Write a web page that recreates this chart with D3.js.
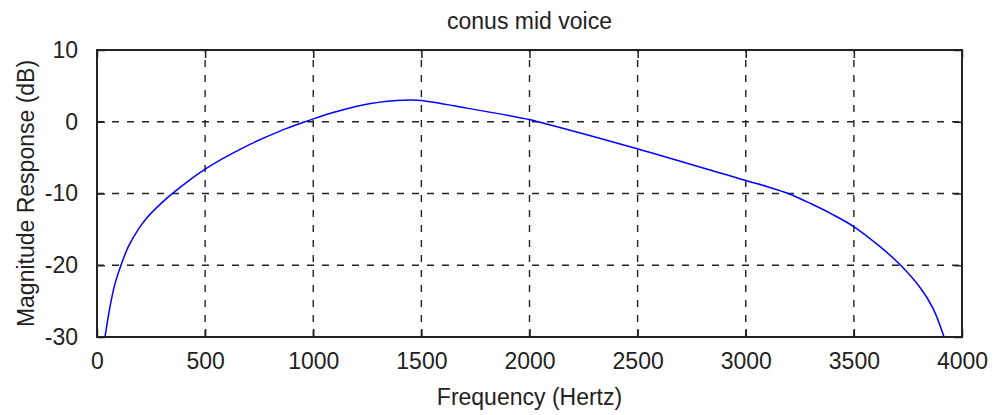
<!DOCTYPE html>
<html>
<head>
<meta charset="utf-8">
<script src="https://cdn.jsdelivr.net/npm/d3@7"></script>
<style>
  body { margin: 0; background: #fff; }
  text { font-family: "Liberation Sans", Arial, sans-serif; fill: #222; }
</style>
</head>
<body>
<div id="chart"></div>
<script>
// values
const freqs = [37, 60, 83, 111, 145, 191, 230, 299, 361, 500, 684, 854, 962, 1000, 1100, 1230, 1386, 1450, 1500, 1710, 2000, 2040, 2502, 3000, 3100, 3196, 3300, 3400, 3499, 3621, 3713, 3806, 3866, 3917];
const magDb = [-30, -25.8, -22.6, -20, -17.4, -15.0, -13.4, -11.3, -9.7, -6.6, -3.5, -1.2, 0, 0.4, 1.35, 2.35, 2.95, 3.02, 2.95, 1.9, 0.3, 0, -3.8, -8.2, -9.05, -10.0, -11.4, -12.9, -14.6, -17.4, -19.9, -23.1, -26, -30];
const xTicks = [0, 500, 1000, 1500, 2000, 2500, 3000, 3500, 4000];
const yTicks = [-30, -20, -10, 0, 10];

// set the dimensions and margins of the graph
var margin = { top: 50, right: 36, bottom: 78, left: 97 },
    width = 998 - margin.left - margin.right,
    height = 415 - margin.top - margin.bottom;

const svg = d3.select("#chart").append("svg")
    .attr("width", 998)
    .attr("height", 415);

const g = svg.append("g")
    .attr("transform", `translate(${margin.left},${margin.top})`);

const x = d3.scaleLinear().domain([0, 4000]).range([0, width]);
const y = d3.scaleLinear().domain([-30, 10]).range([height, 0]);

// dashed grid
g.append("g").selectAll("line")
    .data(xTicks.slice(1, -1))
    .enter().append("line")
    .attr("x1", d => x(d)).attr("x2", d => x(d))
    .attr("y1", height).attr("y2", 0)
    .attr("stroke", "#222").attr("stroke-width", 1.4)
    .attr("stroke-dasharray", "7,8");

g.append("g").selectAll("line")
    .data(yTicks.slice(1, -1))
    .enter().append("line")
    .attr("x1", 0).attr("x2", width)
    .attr("y1", d => y(d)).attr("y2", d => y(d))
    .attr("stroke", "#222").attr("stroke-width", 1.4)
    .attr("stroke-dasharray", "7,8");

// inward ticks on all four sides (box)
const tl = 8;
const plain = d => String(d);   // keep hyphen-minus like the original
const axBottom = g.append("g").attr("transform", `translate(0,${height})`)
    .call(d3.axisBottom(x).tickValues(xTicks).tickSizeInner(-tl).tickSizeOuter(0).tickPadding(16).tickFormat(plain));
const axTop = g.append("g")
    .call(d3.axisTop(x).tickValues(xTicks).tickSizeInner(-tl).tickSizeOuter(0).tickFormat(""));
const axLeft = g.append("g")
    .call(d3.axisLeft(y).tickValues(yTicks).tickSizeInner(-tl).tickSizeOuter(0).tickPadding(19).tickFormat(plain));
const axRight = g.append("g").attr("transform", `translate(${width},0)`)
    .call(d3.axisRight(y).tickValues(yTicks).tickSizeInner(-tl).tickSizeOuter(0).tickFormat(""));

[axBottom, axTop, axLeft, axRight].forEach(a => {
    a.select(".domain").remove();
    a.selectAll(".tick line").attr("stroke", "#222").attr("stroke-width", 1.5);
    a.selectAll(".tick text")
        .style("font-family", '"Liberation Sans", Arial, sans-serif')
        .style("font-size", "23px")
        .attr("fill", "#222");
});

// curve
const line = d3.line()
    .x((d, i) => x(freqs[i]))
    .y(d => y(d))
    .curve(d3.curveCatmullRom.alpha(0.5));

g.append("path")
    .datum(magDb)
    .attr("d", line)
    .attr("fill", "none")
    .attr("stroke", "#0000ff")
    .attr("stroke-width", 1.5);

// frame
g.append("rect")
    .attr("width", width).attr("height", height)
    .attr("fill", "none")
    .attr("stroke", "#222").attr("stroke-width", 2);

// title and labels
svg.append("text")
    .attr("x", margin.left + width / 2).attr("y", 29)
    .attr("text-anchor", "middle")
    .style("font-size", "23px")
    .text("conus mid voice");

svg.append("text")
    .attr("x", margin.left + width / 2).attr("y", 405)
    .attr("text-anchor", "middle")
    .style("font-size", "23px")
    .text("Frequency (Hertz)");

svg.append("text")
    .attr("transform", `translate(34,${margin.top + height / 2}) rotate(-90)`)
    .attr("text-anchor", "middle")
    .style("font-size", "23px")
    .text("Magnitude Response (dB)");
</script>
</body>
</html>
